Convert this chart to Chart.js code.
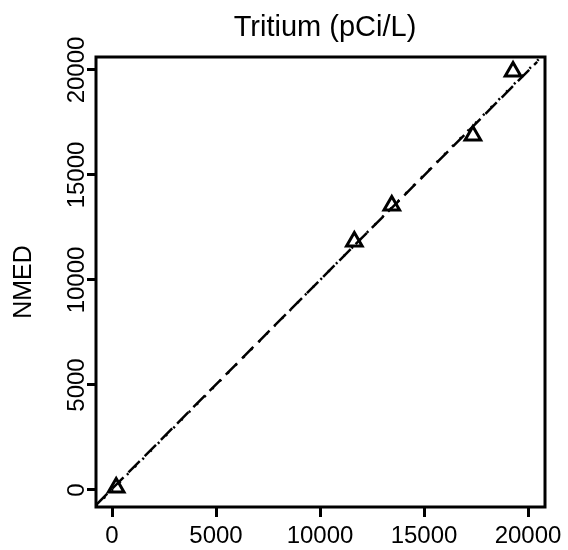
<!DOCTYPE html>
<html lang="en">
<head>
  <meta charset="UTF-8">
  <title>Tritium (pCi/L)</title>
  <script src="https://cdn.jsdelivr.net/npm/chart.js"></script>
  <style>
    body { margin: 0; background: #fff; }
  </style>
</head>
<body>
  <canvas id="chart" width="568" height="550"></canvas>

  <script>
    // Datos
    const labX = [200, 11650, 13450, 17350, 19280];
    const nmedY = [120, 11830, 13550, 16880, 19930];

    // Linea ajustada (guiones) y linea 1:1 (puntos)
    const fitX = [-770, 20440];
    const fitY = [-716, 20388];
    const oneX = [-770, 20560];
    const oneY = [-770, 20560];

    const tickValues = [0, 5000, 10000, 15000, 20000];
    const titleText = 'Tritium (pCi/L)';
    const yTitle = 'NMED';

    const FONT = '"Liberation Sans", Arial, sans-serif';

    // Marco, titulo y etiquetas de los ejes
    const frame = {
      id: 'frame',
      afterDraw(chart) {
        const c = chart.ctx;
        const a = chart.chartArea;
        const x = chart.scales.x;
        const y = chart.scales.y;
        c.save();
        c.strokeStyle = '#000';
        c.lineWidth = 3;
        c.strokeRect(a.left, a.top, a.right - a.left, a.bottom - a.top);

        c.fillStyle = '#000';
        c.font = '29px ' + FONT;
        c.textAlign = 'center';
        c.textBaseline = 'alphabetic';
        c.fillText(titleText, 325, 36);

        c.font = '24px ' + FONT;
        tickValues.forEach(v => {
          c.fillText(String(v), x.getPixelForValue(v), 543);
        });

        // etiquetas del eje y giradas
        tickValues.forEach(v => {
          c.save();
          c.translate(84, y.getPixelForValue(v));
          c.rotate(-Math.PI / 2);
          c.fillText(String(v), 0, 0);
          c.restore();
        });

        c.font = '25px ' + FONT;
        c.save();
        c.translate(31, 282);
        c.rotate(-Math.PI / 2);
        c.fillText(yTitle, 0, 0);
        c.restore();
        c.restore();
      }
    };

    new Chart(document.getElementById('chart'), {
      type: 'scatter',
      data: {
        datasets: [
          {
            data: labX.map((x, i) => ({ x: x, y: nmedY[i] })),
            pointStyle: 'triangle',
            pointRadius: 9,
            borderColor: '#000',
            backgroundColor: 'rgba(0,0,0,0)',
            borderWidth: 3
          },
          {
            type: 'line',
            data: fitX.map((x, i) => ({ x: x, y: fitY[i] })),
            borderColor: '#000',
            borderWidth: 2.5,
            borderDash: [16, 7],
            pointRadius: 0,
            fill: false
          },
          {
            type: 'line',
            data: oneX.map((x, i) => ({ x: x, y: oneY[i] })),
            borderColor: '#000',
            borderWidth: 2.5,
            borderDash: [2, 9],
            pointRadius: 0,
            fill: false
          }
        ]
      },
      options: {
        responsive: false,
        animation: false,
        layout: { padding: { top: 57, right: 23, left: 0, bottom: 0 } },
        plugins: {
          legend: { display: false },
          tooltip: { enabled: false }
        },
        scales: {
          x: {
            type: 'linear',
            min: -770,
            max: 20817,
            afterBuildTicks: s => { s.ticks = tickValues.map(v => ({ value: v })); },
            afterFit: s => { s.height = 43; },
            border: { display: false },
            grid: { drawOnChartArea: false, drawTicks: true, tickLength: 10, color: '#000', lineWidth: 3 },
            ticks: { display: false }
          },
          y: {
            type: 'linear',
            min: -810,
            max: 20619,
            afterBuildTicks: s => { s.ticks = tickValues.map(v => ({ value: v })); },
            afterFit: s => { s.width = 96; },
            border: { display: false },
            grid: { drawOnChartArea: false, drawTicks: true, tickLength: 9, color: '#000', lineWidth: 3 },
            ticks: { display: false }
          }
        }
      },
      plugins: [frame]
    });
  </script>
</body>
</html>
